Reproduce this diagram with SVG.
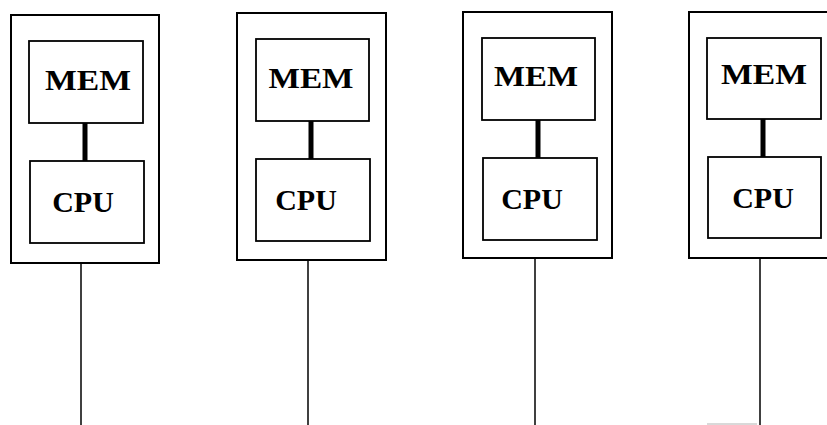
<svg xmlns="http://www.w3.org/2000/svg" width="827" height="425" viewBox="0 0 827 425">
<style>
.outer{fill:none;stroke:#000;stroke-width:2}
.box{fill:none;stroke:#000;stroke-width:1.8}
.bus{stroke:#000;stroke-width:5}
.wire{stroke:#000;stroke-width:1.5}
.lbl{font-family:"Liberation Serif","Times New Roman",serif;font-weight:bold;font-size:30px;text-anchor:middle;fill:#000}
</style>
<rect width="827" height="425" fill="#fff"/>
<g id="node1">
<rect class="outer" x="11" y="15" width="148" height="248"/>
<rect class="box" x="29" y="41" width="114" height="82"/>
<text class="lbl" x="88" y="90" textLength="86" lengthAdjust="spacingAndGlyphs">MEM</text>
<rect class="box" x="30" y="161" width="114" height="82"/>
<text class="lbl" x="83" y="212">CPU</text>
</g>
<g id="node2">
<rect class="outer" x="237" y="13" width="149" height="247"/>
<rect class="box" x="256" y="39" width="113" height="82"/>
<text class="lbl" x="311" y="88" textLength="85" lengthAdjust="spacingAndGlyphs">MEM</text>
<rect class="box" x="256" y="159" width="114" height="82"/>
<text class="lbl" x="306" y="210">CPU</text>
</g>
<g id="node3">
<rect class="outer" x="463" y="12" width="149" height="246"/>
<rect class="box" x="482" y="38" width="113" height="82"/>
<text class="lbl" x="536" y="86" textLength="84" lengthAdjust="spacingAndGlyphs">MEM</text>
<rect class="box" x="483" y="158" width="114" height="82"/>
<text class="lbl" x="532" y="209">CPU</text>
</g>
<g id="node4">
<rect class="outer" x="689" y="12" width="150" height="246"/>
<rect class="box" x="707" y="38" width="114" height="81"/>
<text class="lbl" x="764" y="84" textLength="86" lengthAdjust="spacingAndGlyphs">MEM</text>
<rect class="box" x="708" y="157" width="113" height="81"/>
<text class="lbl" x="763" y="208">CPU</text>
</g>
<g id="connectors">
<line class="bus" x1="85" y1="123" x2="85" y2="161"/>
<line class="bus" x1="311" y1="121" x2="311" y2="159"/>
<line class="bus" x1="538" y1="120" x2="538" y2="158"/>
<line class="bus" x1="763" y1="119" x2="763" y2="157"/>
<line class="wire" x1="81" y1="263" x2="81" y2="425"/>
<line class="wire" x1="308" y1="260" x2="308" y2="425"/>
<line class="wire" x1="535" y1="258" x2="535" y2="425"/>
<line class="wire" x1="760" y1="258" x2="760" y2="425"/>
</g>
<line x1="707" y1="424" x2="757" y2="424" stroke="#ccc" stroke-width="1.5"/>
</svg>
